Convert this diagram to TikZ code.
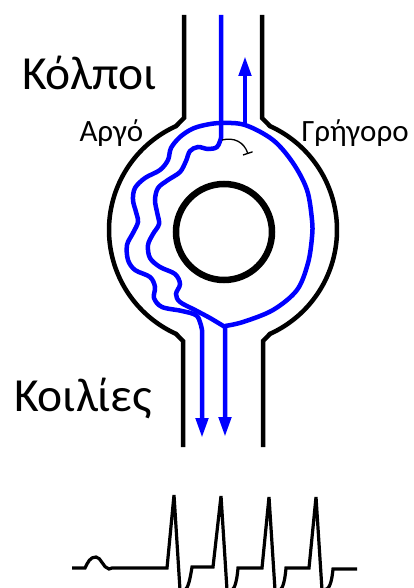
\documentclass[tikz,border=0pt]{standalone}
\usepackage{fontspec}
\setmainfont{Carlito}
\usetikzlibrary{arrows.meta}
\definecolor{pathblue}{RGB}{0,0,255}
\tikzset{
  wall/.style={line width=4.5pt, black},
  ring/.style={line width=6.5pt, black},
  conduct/.style={line width=4.5pt, pathblue},
  flowtip/.style={-{Triangle[length=20pt,width=12pt]}},
  block/.style={line width=1.3pt, black, -{Bar[width=10pt]}},
  ecg/.style={line width=3.2pt, black, line join=miter},
  bigtext/.style={anchor=base west, font=\fontsize{47.5}{47.5}\selectfont},
  smalltext/.style={anchor=base west, font=\fontsize{31}{31}\selectfont},
}
\begin{document}
\begin{tikzpicture}[x=1pt,y=-1pt]
\useasboundingbox (0,0) rectangle (413,588);

% node body with upper and lower tubes
\draw[wall] (184,15) -- (184,118)
  -- plot[domain=114.4:245.6,samples=90] ({223+114*cos(\x)},{230-114*sin(\x)})
  -- (183,341) -- (183,447);
\draw[wall] (263,447) -- (263,341)
  -- plot[domain=-65.6:65.6,samples=90] ({223+114*cos(\x)},{230-114*sin(\x)})
  -- (262,118) -- (262,15);

% central ring
\draw[ring] (224,232) circle[radius=48];

% fast pathway round the ring, then the slow outer wiggle to the left exit
\draw[conduct, flowtip] plot[smooth, tension=0.55] coordinates {
  (225,326) (243,322) (273,310) (297,290) (308,263) (312,237) (312,220)
  (307,190) (293,163) (273,140) (245,125) (221,123) (205,125) (192,129)
  (180,137) (171,148) (168,160) (160,170) (145,178) (135,188) (133,200)
  (136,212) (138,222) (133,233) (127,245) (128,260) (135,270) (150,277)
  (155,287) (154,298) (162,307) (182,311) (197,316) (202,330)}
  -- (202,438);

% incoming line and inner slow wiggle to the right exit
\draw[conduct, flowtip] (221,15) -- plot[smooth, tension=0.55] coordinates {
  (221,138) (217,147) (208,149) (198,147) (190,151) (186,161) (180,172)
  (168,180) (158,188) (155,200) (157,212) (159,224) (153,234) (148,245)
  (150,258) (160,267) (175,274) (180,284) (176,294) (180,302) (195,310)
  (210,318) (225,327)}
  -- (225,437);

% outgoing retrograde branch
\coordinate (up0) at (245,125);
\coordinate (up1) at (245,56);
\draw[conduct, flowtip] (up0) -- (up1);

% block marker
\coordinate (b0) at (222,140);
\coordinate (b1) at (248,154);
\draw[block] (b0) .. controls (234,137) and (244,142) .. (b1);

% labels
\node[bigtext] (atria) at (19,90) {Κόλποι};
\node[bigtext] (ventr) at (11,411) {Κοιλίες};
\node[smalltext] (slow) at (76,142) {Αργό};
\node[smalltext] (fast) at (298,142) {Γρήγορο};

% ECG trace
\draw[ecg] (72,568) -- (85,568)
  .. controls (88,562) and (90,557) .. (96,557)
  .. controls (101,557) and (103,568) .. (109,569)
  -- (112,568) -- (167,568) -- (174,495) -- (180,590) -- (185,590)
  .. controls (188,588) and (190,580) .. (192,567)
  -- (213,567) -- (221,496) -- (227,590) -- (232,590)
  .. controls (235,588) and (237,580) .. (238,568)
  -- (262,568) -- (269,497) -- (275,590) -- (280,590)
  .. controls (283,588) and (285,580) .. (286,568)
  -- (309,568) -- (316,497) -- (322,590) -- (327,589)
  .. controls (330,587) and (332,580) .. (333,569)
  -- (357,569);
\end{tikzpicture}
\end{document}
